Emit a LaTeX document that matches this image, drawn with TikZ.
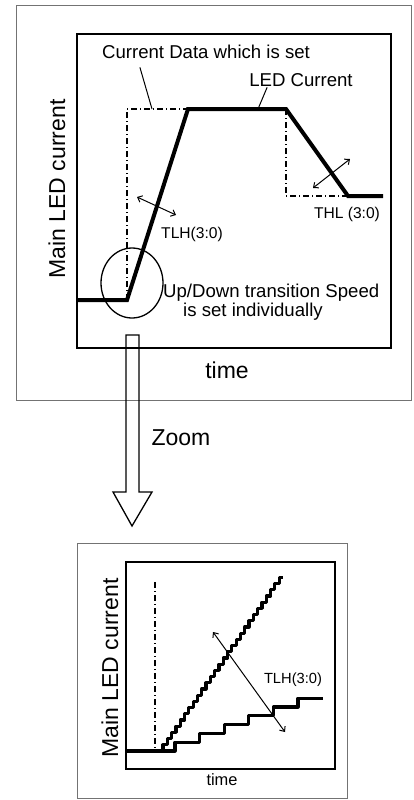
\documentclass[tikz,border=0pt]{standalone}
\usepackage{fontspec}
\setmainfont{Liberation Sans}
\usetikzlibrary{arrows.meta,shapes.geometric}

\begin{document}
\begin{tikzpicture}[x=1pt, y=-1pt,
    outerframe/.style={draw=black!55, line width=1pt},
    plotbox/.style={draw=black, line width=1.8pt},
    ledline/.style={line width=4pt, line join=miter},
    stair/.style={line width=3.2pt, line join=round},
    setline/.style={line width=1.2pt, dash pattern=on 6pt off 3pt on 1pt off 3pt},
    leader/.style={line width=1pt},
    twoway/.style={line width=1pt, {Straight Barb[length=4pt,width=7pt]}-{Straight Barb[length=4pt,width=7pt]}},
    axislabel/.style={font=\fontsize{23}{26}\selectfont, inner sep=0pt},
    note/.style={font=\fontsize{18.6}{21}\selectfont, inner sep=0pt},
    setting/.style={font=\fontsize{15.6}{18}\selectfont, inner sep=0pt}
]

    \useasboundingbox (0,0) rectangle (414,800);

    \draw[outerframe] (16,6) rectangle (411,400);
    \draw[plotbox] (77,34) rectangle (391,348);

    \node[axislabel, rotate=90, anchor=base] (ylab) at (65,189) {Main LED current};
    \node[axislabel, anchor=base] (xlab) at (227,378) {time};

    \draw[setline] (127,300) -- (127,109) -- (188,109);
    \draw[setline] (286,109) -- (286,196) -- (348,196);
    \draw[ledline] (77,300) -- (127,300) -- (188,109) -- (286,109) -- (348,196) -- (383,196);

    \coordinate (setlvl) at (152,109);
    \coordinate (ledlvl) at (258,109);
    \node[note, anchor=base] (cds) at (206,59) {Current Data which is set};
    \node[note, anchor=base] (led) at (301,86) {LED Current};
    \draw[leader] ([xshift=38pt,yshift=-8pt]cds.south west) -- (setlvl);
    \draw[leader] ([xshift=18pt,yshift=-1pt]led.south west) -- (ledlvl);

    \coordinate (tlhA) at (137,197);
    \coordinate (tlhB) at (176,215);
    \draw[twoway] (tlhA) -- (tlhB);
    \node[setting, anchor=base] (tlh) at (192,238) {TLH(3:0)};

    \coordinate (thlA) at (313,188);
    \coordinate (thlB) at (350,159);
    \draw[twoway] (thlA) -- (thlB);
    \node[setting, anchor=base] (thl) at (347,218) {THL (3:0)};

    \node[draw, ellipse, line width=1.3pt, minimum width=62pt, minimum height=70pt, inner sep=0pt] (spot) at (132,283) {};
    \node[note, anchor=base west] (updown) at (163,297) {Up/Down transition Speed};
    \node[note, anchor=base west] (indiv) at (183,316) {is set individually};

    \draw[line width=1.3pt] (126,335) -- (139,335) -- (139,492) -- (152,492) -- (132,526) -- (113,492) -- (126,492) -- cycle;
    \node[axislabel, anchor=base] (zoomlab) at (181,445) {Zoom};

    \draw[outerframe] (77,543) rectangle (347,798);
    \draw[plotbox] (126,562) rectangle (335,769);

    \node[axislabel, rotate=90, anchor=base] (ylab2) at (118,668) {Main LED current};
    \node[font=\fontsize{16.4}{19}\selectfont, inner sep=0pt, anchor=base] (xlab2) at (222,785) {time};

    \draw[setline] (155,582) -- (155,751);
    \draw[stair] (126,751) -- (175,751) \foreach \k in {1,...,6} { -- ++(0,-8.8) -- ++(24.6,0) };
    \draw[stair] (163,751) \foreach \k in {1,...,28} { -- ++(0,-6.2) -- ++(4.3,0) };

    \coordinate (fastA) at (213,632);
    \coordinate (fastB) at (285,732);
    \draw[twoway] (fastA) -- (fastB);
    \node[font=\fontsize{14.7}{17}\selectfont, inner sep=0pt, anchor=base] (tlh2) at (293,683) {TLH(3:0)};

\end{tikzpicture}
\end{document}
